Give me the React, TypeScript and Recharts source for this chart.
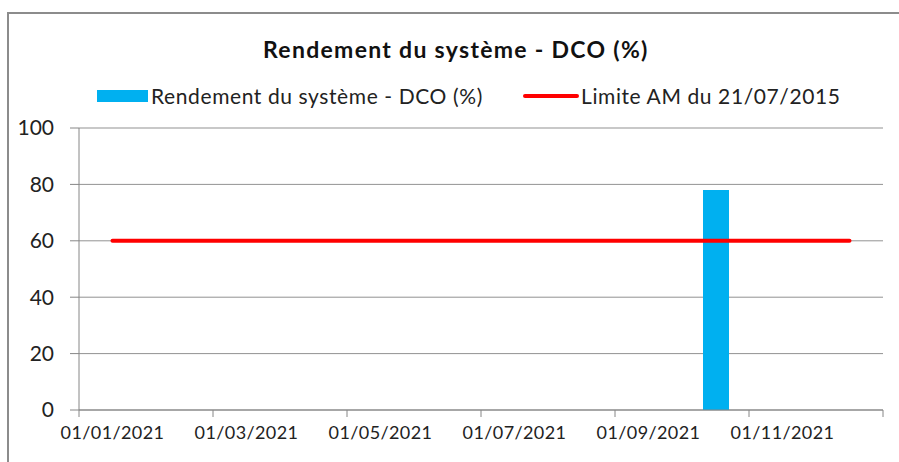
import React from "react";
import { Bar, CartesianGrid, ComposedChart, Line, XAxis, YAxis } from "recharts";

// one category per month (Excel date axis, base unit = month)
const months = [
  "01/01/2021",
  "01/02/2021",
  "01/03/2021",
  "01/04/2021",
  "01/05/2021",
  "01/06/2021",
  "01/07/2021",
  "01/08/2021",
  "01/09/2021",
  "01/10/2021",
  "01/11/2021",
  "01/12/2021",
];
const rendement: (number | null)[] = [null, null, null, null, null, null, null, null, null, 78, null, null];
const limite = [60, 60, 60, 60, 60, 60, 60, 60, 60, 60, 60, 60];
const xTicks = [0, 2, 4, 6, 8, 10, 12];
const yTicks = [0, 20, 40, 60, 80, 100];

const BLUE = "#00B0F0";
const RED = "#FF0000";
const AXIS = "#868686";
const FONT = "Lato, 'Open Sans', sans-serif";

const W = 899;
const H = 462;
const MARGIN = { top: 128, right: 16, bottom: 12, left: 0 };
const Y_W = 79;
const MONTH_W = (W - MARGIN.left - MARGIN.right - Y_W) / months.length;

const data = months.map((m, i) => ({
  x: i + 0.5,
  label: m,
  rendement: rendement[i],
  limite: limite[i],
}));

function MonthTick(props: any) {
  const { x, y, payload } = props;
  const label = months[payload.value];
  if (!label) return null;
  return (
    <text
      x={x + MONTH_W / 2}
      y={y + 20}
      textAnchor="middle"
      fontSize={18}
      fill="#222"
      fontFamily={FONT}
      letterSpacing={0.4}
    >
      {label}
    </text>
  );
}

const legendText = { fontFamily: FONT, fontSize: 21, letterSpacing: 0.6, color: "#222", whiteSpace: "nowrap" as const };

export default function App() {
  return (
    <div style={{ position: "absolute", left: 0, top: 0, width: W, height: H, overflow: "hidden", background: "#fff" }}>
      <div
        style={{
          position: "absolute",
          left: 7,
          top: 12,
          width: W + 20,
          height: H + 20,
          border: "2px solid #8c8c8c",
        }}
      />
      <div
        style={{
          position: "absolute",
          left: 263,
          top: 35,
          fontFamily: FONT,
          fontWeight: 700,
          fontSize: 23,
          letterSpacing: 1.3,
          color: "#111",
          whiteSpace: "nowrap",
        }}
      >
        Rendement du système - DCO (%)
      </div>
      <div style={{ position: "absolute", left: 97, top: 83, display: "flex", alignItems: "center", ...legendText }}>
        <span style={{ display: "inline-block", width: 51, height: 12, background: BLUE, marginRight: 3 }} />
        <span>Rendement du système - DCO (%)</span>
      </div>
      <div style={{ position: "absolute", left: 523, top: 83, display: "flex", alignItems: "center", ...legendText }}>
        <span style={{ display: "inline-block", width: 56, height: 4, background: RED, borderRadius: 2, marginRight: 2 }} />
        <span>Limite AM du 21/07/2015</span>
      </div>
      <ComposedChart width={W} height={H} data={data} margin={MARGIN} style={{ position: "absolute", left: 0, top: 0 }}>
        <CartesianGrid vertical={false} stroke={AXIS} strokeOpacity={0.9} />
        <XAxis
          dataKey="x"
          type="number"
          domain={[0, 12]}
          ticks={xTicks}
          interval={0}
          height={40}
          stroke={AXIS}
          tickSize={7}
          tick={<MonthTick />}
        />
        <YAxis
          domain={[0, 100]}
          ticks={yTicks}
          width={Y_W}
          stroke={AXIS}
          tickSize={9}
          tickMargin={16}
          tick={{ fontSize: 21, fill: "#222", fontFamily: FONT }}
        />
        <Bar dataKey="rendement" fill={BLUE} barSize={26} isAnimationActive={false} />
        <Line
          dataKey="limite"
          stroke={RED}
          strokeWidth={4}
          strokeLinecap="round"
          dot={false}
          activeDot={false}
          isAnimationActive={false}
        />
      </ComposedChart>
    </div>
  );
}
